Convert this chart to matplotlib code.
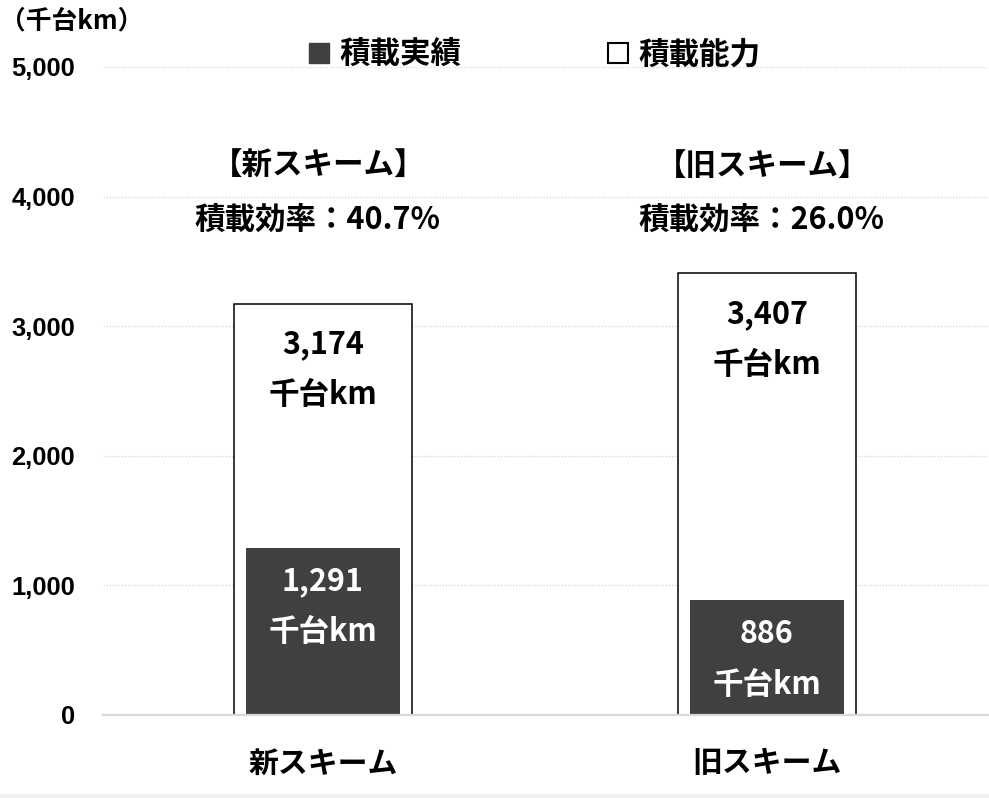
import matplotlib.pyplot as plt
from matplotlib.patches import Patch, Rectangle

plt.rcParams['font.family'] = ['Noto Sans CJK JP', 'DejaVu Sans']

# データ（千台km）
schemes = ['新スキーム', '旧スキーム']
capacity = [3174, 3407]      # 積載能力
actual = [1291, 886]         # 積載実績
efficiency = [40.7, 26.0]    # 積載効率（%）
yticks = [0, 1000, 2000, 3000, 4000, 5000]

dark = '#404040'
grid = '#d9d9d9'

fig = plt.figure(figsize=(9.89, 7.98), dpi=100)
ax = fig.add_axes([103 / 989, 83 / 798, 886 / 989, 648 / 798])

x = range(len(schemes))
ax.bar(x, capacity, width=0.4, color='white', edgecolor='black', linewidth=1.1, zorder=2)
ax.bar(x, actual, width=0.346, color=dark, zorder=3)

ax.set_xlim(-0.495, 1.5)
ax.set_ylim(0, 5000)
ax.set_yticks(yticks)
ax.set_yticklabels([f'{v:,}' for v in yticks], family='Liberation Sans',
                   fontweight='bold', fontsize=18.4)
ax.set_xticks(list(x))
ax.set_xticklabels(schemes, fontweight='bold', fontsize=21.5)
ax.tick_params(axis='y', length=0, pad=20)
ax.tick_params(axis='x', length=0, pad=24)

for s in ['top', 'right', 'left']:
    ax.spines[s].set_visible(False)
ax.spines['bottom'].set_color(grid)
ax.spines['bottom'].set_linewidth(1.6)
ax.spines['bottom'].set_zorder(4)
ax.yaxis.grid(True, linestyle=(0, (1, 1.2)), color=grid, linewidth=1.0, zorder=0)
ax.set_axisbelow(True)

# 棒の中のラベル
for i in x:
    ax.annotate(f'{capacity[i]:,}', (i, capacity[i]), xytext=(0, -29), textcoords='offset points',
                ha='center', va='center', fontsize=22, fontweight='bold', zorder=5)
    ax.annotate('千台km', (i, capacity[i]), xytext=(0, -66), textcoords='offset points',
                ha='center', va='center', fontsize=22, fontweight='bold', zorder=5)
    ax.annotate(f'{actual[i]:,}', (i, actual[i]), xytext=(0, -24), textcoords='offset points',
                ha='center', va='center', fontsize=22, fontweight='bold', color='white', zorder=5)
    ax.annotate('千台km', (i, actual[i]), xytext=(0, -61), textcoords='offset points',
                ha='center', va='center', fontsize=22, fontweight='bold', color='white', zorder=5)

# 積載効率の注記
for i in x:
    ax.text(i - 0.01, 4237, f'【{schemes[i]}】', ha='center', va='center',
            fontsize=22, fontweight='bold')
    ax.text(i - 0.012, 3812, f'積載効率：{efficiency[i]:.1f}%', ha='center', va='center',
            fontsize=22, fontweight='bold')

# 凡例
handles = [Patch(facecolor=dark, edgecolor=dark),
           Patch(facecolor='white', edgecolor='black', linewidth=1.5)]
fig.legend(handles, ['積載実績', '積載能力'], loc='center', bbox_to_anchor=(535 / 989, 1 - 55 / 798),
           ncol=2, frameon=False, prop={'weight': 'bold', 'size': 22},
           handlelength=0.65, handleheight=0.65, handletextpad=0.35, columnspacing=4.8)

fig.text(0.0, 1 - 21 / 798, '（千台km）', ha='left', va='center', fontsize=18.5, fontweight='bold')

# 下端の帯
fig.patches.append(Rectangle((0, 0), 1, 4 / 798, transform=fig.transFigure,
                             facecolor='#f0f0f0', edgecolor='none'))

fig.savefig('out.png', dpi=100)
